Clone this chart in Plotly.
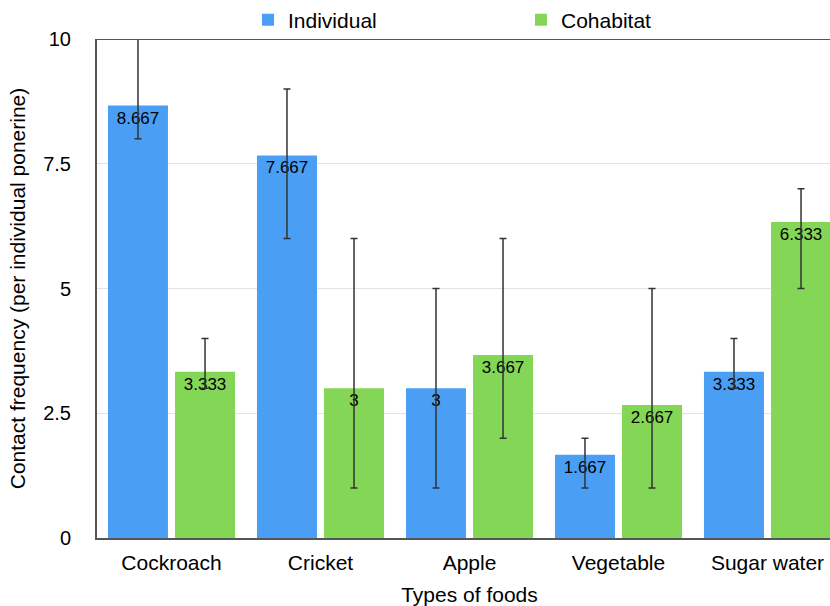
import plotly.graph_objects as go

categories = ["Cockroach", "Cricket", "Apple", "Vegetable", "Sugar water"]
individual = [8.667, 7.667, 3, 1.667, 3.333]
cohabitat = [3.333, 3, 3.667, 2.667, 6.333]
individual_max = [10, 9, 5, 2, 4]
individual_min = [8, 6, 1, 1, 3]
cohabitat_max = [4, 6, 6, 5, 7]
cohabitat_min = [3, 1, 2, 1, 5]
y_ticks = [0, 2.5, 5, 7.5, 10]
y_tick_labels = ["0", "2.5", "5", "7.5", "10"]

FONT = "Liberation Sans, Arial, Helvetica, sans-serif"
W, H = 843, 606

def fmt(v):
    return ("%g" % v)

def make_bar(name, vals, vmax, vmin, color):
    return go.Bar(
        name=name, x=categories, y=vals,
        marker=dict(color=color, line=dict(width=0)),
        text=[fmt(v) for v in vals],
        textposition="inside", insidetextanchor="end",
        textfont=dict(color="black", size=17, family=FONT),
        textangle=0,
        error_y=dict(type="data", symmetric=False,
                     array=[a - v for a, v in zip(vmax, vals)],
                     arrayminus=[v - b for v, b in zip(vals, vmin)],
                     color="#333333", thickness=1.5, width=3.5),
    )

fig = go.Figure()
fig.add_trace(make_bar("Individual", individual, individual_max, individual_min, "#4A9FF5"))
fig.add_trace(make_bar("Cohabitat", cohabitat, cohabitat_max, cohabitat_min, "#84D656"))

fig.update_layout(
    width=W, height=H,
    barmode="group", bargap=0.10, bargroupgap=0.105,
    plot_bgcolor="white", paper_bgcolor="white",
    font=dict(family=FONT, size=21, color="black"),
    margin=dict(l=97, r=1, t=39, b=68, autoexpand=False),
    uniformtext=dict(minsize=17, mode="show"),
    legend=dict(orientation="h", xref="container", x=248/W, xanchor="left",
                yref="container", y=1 - 20/H, yanchor="middle",
                font=dict(size=21), entrywidth=228, entrywidthmode="pixels",
                bgcolor="rgba(0,0,0,0)"),
    xaxis=dict(
        title=dict(text="Types of foods", font=dict(size=21), standoff=14),
        showline=True, linecolor="#555555", linewidth=2,
        ticks="", tickfont=dict(size=21), mirror=False,
        ticklabelstandoff=5,
    ),
    yaxis=dict(
        title=dict(text="Contact frequency (per individual ponerine)", font=dict(size=21), standoff=12),
        range=[0, 10], tickvals=y_ticks, ticktext=y_tick_labels,
        showgrid=True, gridcolor="#E3E3E3", gridwidth=1,
        showline=True, linecolor="#555555", linewidth=2,
        zeroline=False, ticks="", tickfont=dict(size=20),
        ticklabelstandoff=20,
    ),
)

fig.add_shape(type="line", xref="paper", yref="y", x0=0, x1=1, y0=10, y1=10,
              line=dict(color="#555555", width=2))

fig.write_html("out.html", config={"displayModeBar": False},
               post_script="document.body.style.margin='0';document.body.style.overflow='hidden';")
